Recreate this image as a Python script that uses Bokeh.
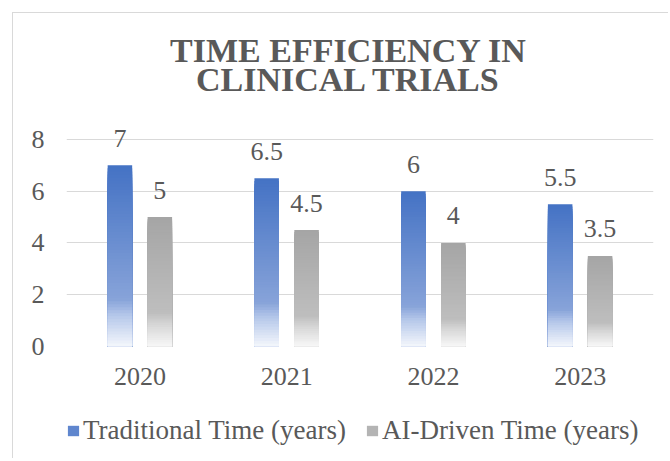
import numpy as np
from bokeh.plotting import figure
from bokeh.layouts import column
from bokeh.models import (FactorRange, Range1d, ColumnDataSource, FixedTicker,
                          Legend, LegendItem, Label)
from bokeh.transform import dodge
from bokeh.core.properties import value
from bokeh.embed import file_html
from bokeh.resources import INLINE

# ---- data ----
years = ["2020", "2021", "2022", "2023"]
traditional = [7, 6.5, 6, 5.5]
ai_driven = [5, 4.5, 4, 3.5]
series_names = ["Traditional Time (years)", "AI-Driven Time (years)"]
y_ticks = [0, 2, 4, 6, 8]
title_lines = ["TIME EFFICIENCY IN", "CLINICAL TRIALS"]

FONT = "Liberation Serif"
TEXT = "#595959"
BORDER = "1px solid #D9D9D9"

blue_stops = [(0.0, "#4472C4"), (0.74, "#87A3D9"), (0.83, "#B6C8EA"), (1.0, "#F4F7FC")]
gray_stops = [(0.0, "#A5A5A5"), (0.74, "#BEBEBE"), (0.83, "#D6D6D6"), (1.0, "#F8F8F8")]


def hex2rgb(h):
    h = h.lstrip("#")
    return [int(h[i:i + 2], 16) for i in (0, 2, 4)]


def grad(stops, t):
    for (t0, c0), (t1, c1) in zip(stops[:-1], stops[1:]):
        if t0 <= t <= t1:
            f = (t - t0) / (t1 - t0)
            a, b = hex2rgb(c0), hex2rgb(c1)
            rgb = [round(a[k] + (b[k] - a[k]) * f) for k in range(3)]
            return "#%02X%02X%02X" % tuple(rgb)
    return stops[-1][1]


N = 60


def slices(vals, stops):
    xs, tops, cols = [], [], []
    for i in range(N):
        t = i / N
        for y, v in zip(years, vals):
            xs.append(y)
            tops.append(v * (1 - t))
            cols.append(grad(stops, t + 0.5 / N))
    return ColumnDataSource(dict(x=xs, top=tops, color=cols))


p = figure(x_range=FactorRange(*years), y_range=Range1d(0, 12.21),
           width=656, height=392, output_backend="svg", toolbar_location=None,
           min_border_left=53, min_border_right=16, min_border_top=17,
           min_border_bottom=59, outline_line_color=None)
p.title.visible = False
p.styles = {"margin-left": "12px", "margin-top": "12px",
            "border-left": BORDER, "border-top": BORDER}

OFF = 0.136
BW = 0.167

p.vbar(x=dodge("x", -OFF, range=p.x_range), top="top", bottom=0, width=BW,
       fill_color="color", line_color=None, source=slices(traditional, blue_stops))
p.vbar(x=dodge("x", OFF, range=p.x_range), top="top", bottom=0, width=BW,
       fill_color="color", line_color=None, source=slices(ai_driven, gray_stops))

lab_t = ColumnDataSource(dict(x=years, y=traditional, t=[f"{v:g}" for v in traditional]))
lab_a = ColumnDataSource(dict(x=years, y=ai_driven, t=[f"{v:g}" for v in ai_driven]))
for src, off in ((lab_t, -OFF), (lab_a, OFF)):
    p.text(x=dodge("x", off, range=p.x_range), y="y", text="t", source=src,
           text_font=value(FONT), text_font_size="26px", text_color=TEXT,
           text_align="center", text_baseline="alphabetic", y_offset=-27)

# axes
for ax in (p.xaxis, p.yaxis):
    ax.axis_line_color = None
    ax.major_tick_line_color = None
    ax.minor_tick_line_color = None
    ax.major_tick_out = 0
    ax.major_tick_in = 0
    ax.major_label_text_font = FONT
    ax.major_label_text_font_size = "26px"
    ax.major_label_text_color = TEXT
p.yaxis.ticker = FixedTicker(ticks=y_ticks)
p.yaxis.major_label_standoff = 22
p.xaxis.major_label_standoff = 21

p.xgrid.grid_line_color = None
p.ygrid.ticker = FixedTicker(ticks=y_ticks)
p.ygrid.grid_line_color = "#D9D9D9"
p.ygrid.grid_line_width = 1

# title (two lines, inside the extended frame)
for line, yy in zip(title_lines, (11.44, 10.30)):
    p.add_layout(Label(x=1.922, y=yy, text=line, text_font=FONT,
                       text_font_size="34px", text_font_style="bold",
                       text_color=TEXT, text_align="center",
                       text_baseline="alphabetic"))

# legend strip (separate figure below the chart)
q = figure(width=656, height=54, x_range=Range1d(0, 1), y_range=Range1d(0, 1),
           x_axis_type=None, y_axis_type=None,
           output_backend="svg", toolbar_location=None, min_border=0,
           min_border_left=0, min_border_right=0, min_border_top=0,
           min_border_bottom=0, outline_line_color=None)
q.title.visible = False
q.grid.visible = False
q.styles = {"margin-left": "12px", "border-left": BORDER}
# zero-height proxy bars: they only supply the legend swatch colours
r1 = q.vbar(x=[0.5], top=[0], bottom=[0], width=0.1, fill_color="#5F86CE", line_color=None)
r2 = q.vbar(x=[0.5], top=[0], bottom=[0], width=0.1, fill_color="#B4B4B4", line_color=None)
legend = Legend(items=[LegendItem(label=series_names[0], renderers=[r1]),
                       LegendItem(label=series_names[1], renderers=[r2])],
                orientation="horizontal", location=(0, 12), margin=0, padding=0,
                spacing=19, label_standoff=3, glyph_width=14, glyph_height=13,
                label_text_font=FONT, label_text_font_size="27px",
                label_text_color=TEXT, border_line_color=None,
                background_fill_alpha=0)
q.add_layout(legend)

open("out.html", "w").write(file_html(column(p, q, spacing=0), INLINE))
